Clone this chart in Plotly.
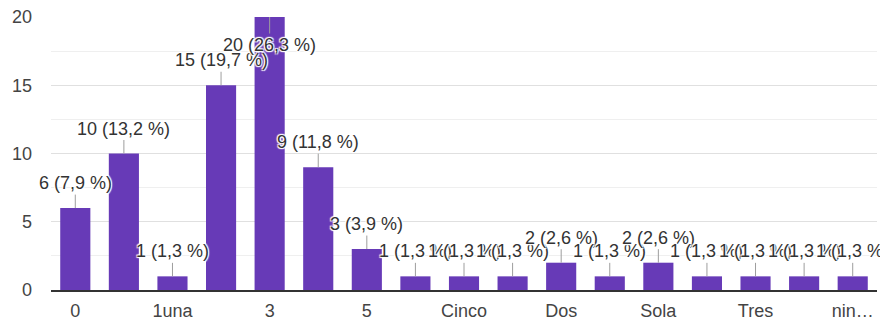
import plotly.graph_objects as go

categories = ["0", "1", "1una", "2", "3", "4", "5", "6", "Cinco", "Cuatro",
              "Dos", "Ninguna", "Sola", "Solo", "Tres", "Uno", "ninguna"]
values = [6, 10, 1, 15, 20, 9, 3, 1, 1, 1, 2, 1, 2, 1, 1, 1, 1]
tick_cats = ["0", "1una", "3", "5", "Cinco", "Dos", "Sola", "Tres", "ninguna"]
tick_text = ["0", "1una", "3", "5", "Cinco", "Dos", "Sola", "Tres", "nin…"]
y_ticks = [0, 5, 10, 15, 20]

total = sum(values)
y_max = 20
FONT = "Liberation Sans, Arial, Helvetica, sans-serif"
halo = ("1px 1px 1px #fff, -1px -1px 1px #fff, 1px -1px 1px #fff, "
        "-1px 1px 1px #fff, 0 0 2px #fff")

fig = go.Figure()
fig.add_trace(go.Bar(x=categories, y=values, marker_color="#673ab7",
                     marker_line_width=0, hoverinfo="skip"))

annotations = []
for i, v in enumerate(values):
    pct = f"{v / total * 100:.1f}".replace(".", ",")
    inside = v >= y_max - 2
    annotations.append(dict(
        x=i, y=v, xref="x", yref="y",
        text=f"{v} ({pct} %)",
        showarrow=True, arrowhead=0, arrowwidth=1, arrowcolor="#9e9e9e",
        ax=0, ay=28 if inside else -25, standoff=0,
        font=dict(family=FONT, size=18, color="#333", shadow=halo),
    ))

fig.update_layout(
    width=880, height=315,
    margin=dict(l=43, r=11, t=9, b=33),
    paper_bgcolor="white", plot_bgcolor="white",
    bargap=0.38, showlegend=False,
    annotations=annotations,
    font=dict(family=FONT, size=18, color="#444"),
)
fig.update_xaxes(type="category", tickmode="array", tickvals=tick_cats,
                 ticktext=tick_text, showgrid=False, ticks="",
                 range=[-0.5, len(categories) - 0.5],
                 showline=True, linecolor="#333", linewidth=2,
                 automargin=False, ticklabelstandoff=3,
                 ticklabeloverflow="allow",
                 tickfont=dict(family=FONT, size=18, color="#444"))
fig.update_yaxes(range=[0, y_max], tickmode="array", tickvals=y_ticks,
                 showgrid=True, gridcolor="#e0e0e0", gridwidth=1,
                 zeroline=False, ticks="", ticklabelstandoff=18,
                 automargin=False, ticklabeloverflow="allow",
                 minor=dict(tickmode="linear", tick0=0, dtick=2.5,
                            showgrid=True, gridcolor="#efefef", gridwidth=1),
                 tickfont=dict(family=FONT, size=18, color="#444"))

fig.write_html("out.html")
